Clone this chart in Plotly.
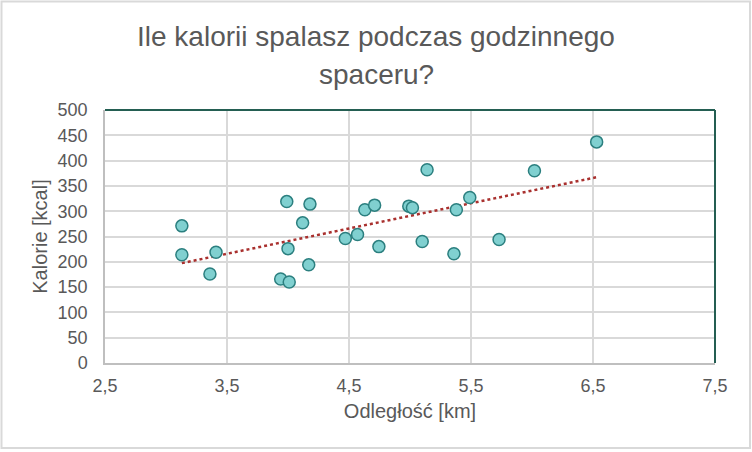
import numpy as np
import plotly.graph_objects as go

distance_km = [3.13, 3.13, 3.36, 3.41, 3.94, 3.99, 4.00, 4.01, 4.12, 4.17, 4.18,
               4.47, 4.57, 4.63, 4.71, 4.745, 4.99, 5.02, 5.10, 5.14, 5.36, 5.38,
               5.49, 5.73, 6.02, 6.53]
calories_kcal = [271, 214, 176, 219, 166, 319, 226, 160, 277, 194, 314,
                 246, 254, 303, 312, 230, 310, 307, 240, 382, 216, 303,
                 327, 244, 380, 437]

x_ticks = [2.5, 3.5, 4.5, 5.5, 6.5, 7.5]
y_ticks = list(range(0, 501, 50))

title_lines = ["Ile kalorii spalasz podczas godzinnego", "spaceru?"]
x_title = "Odległość [km]"
y_title = "Kalorie [kcal]"

slope, intercept = np.polyfit(distance_km, calories_kcal, 1)
trend_x = [min(distance_km), max(distance_km)]
trend_y = [slope * v + intercept for v in trend_x]

FONT = "Liberation Sans, Arial, sans-serif"
GRAY = "#595959"

fig = go.Figure()
fig.add_trace(go.Scatter(
    x=trend_x, y=trend_y, mode="lines",
    line=dict(color="#a9302e", width=2.5, dash="dot"),
    hoverinfo="skip", showlegend=False))
fig.add_trace(go.Scatter(
    x=distance_km, y=calories_kcal, mode="markers",
    marker=dict(size=12, color="#80d0d0", line=dict(color="#2b7f7f", width=1.5)),
    showlegend=False))

W, H = 752, 452
ml, mr, mt, mb = 105, 37, 110, 89
pw, ph = W - ml - mr, H - mt - mb


def px_x(p):
    return (p - ml) / pw


def px_y(p):
    return (H - mb - p) / ph


fig.update_layout(
    width=W, height=H,
    margin=dict(l=ml, r=mr, t=mt, b=mb),
    paper_bgcolor="white", plot_bgcolor="white",
    separators=", ",
    font=dict(family=FONT, color=GRAY, size=18),
    xaxis=dict(range=[2.5, 7.5], tickvals=x_ticks, tickformat=".1f",
               showgrid=True, gridcolor="#d9d9d9", gridwidth=1.5,
               showline=True, linecolor="#bfbfbf", linewidth=1.5,
               zeroline=False, ticks="", tickfont=dict(size=18, color=GRAY),
               ticklabelstandoff=6,
               title=dict(text=x_title, font=dict(size=20, color=GRAY), standoff=9)),
    yaxis=dict(range=[0, 500], tickvals=y_ticks,
               showgrid=True, gridcolor="#d9d9d9", gridwidth=1.5,
               showline=True, linecolor="#bfbfbf", linewidth=1.5,
               zeroline=False, ticks="", tickfont=dict(size=18, color=GRAY),
               ticklabelstandoff=12,
               title=dict(text=y_title, font=dict(size=20, color=GRAY), standoff=5)),
    annotations=[
        dict(text=title_lines[0], xref="paper", yref="paper",
             x=px_x(376), y=px_y(37), xanchor="center", yanchor="middle",
             showarrow=False, font=dict(size=28, color=GRAY, family=FONT)),
        dict(text=title_lines[1], xref="paper", yref="paper",
             x=px_x(376), y=px_y(75), xanchor="center", yanchor="middle",
             showarrow=False, font=dict(size=28, color=GRAY, family=FONT)),
    ],
    shapes=[
        dict(type="line", xref="paper", yref="paper", x0=0, x1=1, y0=1, y1=1,
             line=dict(color="#245e52", width=2)),
        dict(type="line", xref="paper", yref="paper", x0=1, x1=1, y0=0, y1=1,
             line=dict(color="#245e52", width=2)),
        dict(type="rect", xref="paper", yref="paper",
             x0=px_x(1.5), x1=px_x(750), y0=px_y(448), y1=px_y(1.5),
             line=dict(color="#d9d9d9", width=2)),
    ],
)

fig.write_html("out.html", config={"displayModeBar": False},
               post_script="document.body.style.margin='0';")
